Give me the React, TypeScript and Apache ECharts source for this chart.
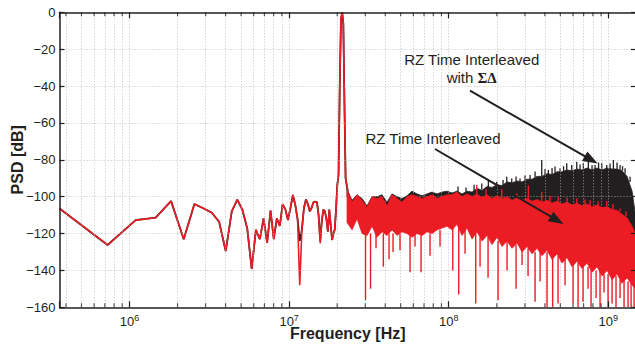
import React, { useEffect, useRef } from 'react';
import * as echarts from 'echarts';

const INK = '#231f20';
const RED = '#ec1c24';
const GRID = '#b4b4b4';

// FFT bin width (Hz) and axis range
const BIN_HZ = 3.642e5;
const X_MIN = 3.642e5;
const X_MAX = 1.49e9;

// Low-frequency bins (bin index) read individually
const lowBins = [
  1, 2, 3, 4, 5, 6, 7, 8, 9, 10, 11, 12, 13, 14, 15, 16, 17, 18, 19, 20,
  21, 22, 23, 24, 25, 26, 27, 28, 29, 30, 31, 32, 33, 34, 35, 36, 37, 38, 39, 40,
  41, 42, 43, 44, 45, 46, 47, 48, 49, 50, 51, 52, 53, 54, 55, 56, 57, 58, 59, 60,
  61, 62, 63, 64,
];
const lowRed = [
  -106.4, -126.2, -112.7, -111.4, -102.4, -123.1, -104, -106.4, -108.7, -113.6,
  -129.5, -108, -101.6, -107.2, -117.2, -139.2, -118, -123, -111.8, -125,
  -107.6, -123, -111.8, -115.9, -104, -106.9, -112.7, -106, -99.1, -104.5,
  -112, -148, -118, -106, -101.5, -104, -108, -106, -103, -102.7,
  -103, -110, -125.3, -113, -107, -108, -112, -119, -107, -115,
  -123.5, -120, -118, -107.2, -93.7, -88, -40, -4, 0, -6,
  -50, -90, -93, -96.4,
];
const lowBlack = [
  -106.4, -126.2, -112.7, -111.4, -102.4, -123.1, -104, -106.4, -108.7, -113.6,
  -129.5, -108, -101.6, -107.2, -117.2, -139.2, -118, -123, -111.8, -125,
  -107.6, -123, -111.8, -115.9, -104, -106.9, -112.7, -106, -99.1, -104.5,
  -112, -124, -118, -106, -101.5, -104, -108, -106, -103, -102.7,
  -103, -110, -124, -113, -107, -108, -112, -119, -107, -115,
  -123.5, -120, -118, -107.2, -93.7, -88, -40, -4, 0, -6,
  -50, -90, -94, -97,
];

// Dense noise region: sampled frequencies with upper / lower edges (dB)
const noiseFreqs = [
  2.306e7, 2.478e7, 2.664e7, 2.863e7, 3.077e7, 3.307e7, 3.554e7, 3.82e7, 4.106e7, 4.412e7,
  4.743e7, 5.097e7, 5.478e7, 5.888e7, 6.328e7, 6.801e7, 7.311e7, 7.862e7, 8.45e7, 9.08e7,
  9.757e7, 1.049e8, 1.127e8, 1.211e8, 1.302e8, 1.4e8, 1.504e8, 1.617e8, 1.738e8, 1.868e8,
  2.007e8, 2.158e8, 2.319e8, 2.492e8, 2.679e8, 2.879e8, 3.095e8, 3.326e8, 3.575e8, 3.842e8,
  4.129e8, 4.438e8, 4.77e8, 5.127e8, 5.51e8, 5.923e8, 6.366e8, 6.842e8, 7.353e8, 7.904e8,
  8.495e8, 9.13e8, 9.813e8, 1.055e9, 1.134e9, 1.218e9, 1.31e9, 1.408e9, 1.49e9,
];
const redHigh = [
  -96, -103, -99, -102, -106, -100, -101, -100, -105, -99,
  -101, -103, -100, -99, -100, -101, -100, -99, -101, -100,
  -99, -99, -97.5, -100, -98.5, -100, -98.5, -100.5, -99, -101,
  -99.5, -101, -100, -102, -100.5, -102, -101, -102.5, -101.5, -103,
  -102, -103.5, -102.5, -104, -103, -104.5, -103.5, -105, -104, -105.5,
  -104.5, -106, -105.5, -107, -107.5, -109.5, -111.5, -116, -121,
];
const redLow = [
  -114, -118, -112, -120, -121, -116, -122, -119, -121, -118,
  -121, -119, -120, -122, -120, -121, -119, -120, -118, -117,
  -116, -118, -115, -121, -117, -123, -119, -124, -121, -126,
  -122, -127, -124, -128, -125, -130, -127, -131, -128, -132,
  -129, -134, -131, -136, -133, -138, -135, -139, -136, -141,
  -138, -143, -140, -145, -142, -147, -144, -148, -150,
];
const blackHigh = [
  -96, -102, -99, -101, -105, -100, -100, -99, -103, -98.5,
  -100, -101, -99.5, -97, -98.5, -99.5, -98.5, -97.5, -98.5, -97.5,
  -97, -98, -97, -98.5, -97, -97.5, -95.5, -96.5, -94.5, -95,
  -93.5, -94, -92, -92.5, -91.5, -92, -90.5, -90.5, -89, -89,
  -87.5, -88, -86.5, -86.5, -85.5, -86, -85, -85.5, -84.5, -85.5,
  -84.5, -85.5, -84.5, -85, -85, -86, -89, -97, -112,
];
const blackLow = [
  -100, -106, -103, -106, -110, -104, -105, -104, -109, -103,
  -105, -107, -104, -103, -104, -105, -104, -103, -105, -104,
  -103, -103, -102, -104, -103, -104, -103, -105, -103, -105,
  -104, -105, -104, -106, -105, -106, -105, -107, -106, -107,
  -106, -108, -107, -108, -107, -109, -108, -109, -108, -110,
  -109, -110, -110, -111, -112, -114, -116, -120, -125,
];

// Thin spikes: [frequency Hz, from dB, to dB]
const redSpikes: [number, number, number][] = [
  [3.01e7, -120, -156], [3.236e7, -120, -150], [3.503e7, -118, -128], [3.893e7, -120, -138],
  [4.226e7, -120, -134], [4.477e7, -120, -130], [4.951e7, -120, -129], [5.721e7, -120, -141],
  [6.149e7, -120, -127], [6.705e7, -120, -141], [7.635e7, -120, -132], [8.818e7, -118, -127],
  [1.06e8, -116, -140], [1.155e8, -116, -153], [1.265e8, -118, -131], [1.476e8, -120, -158],
  [1.571e8, -122, -138], [1.763e8, -122, -144], [2.037e8, -124, -156], [2.319e8, -124, -140],
  [2.641e8, -126, -150], [2.879e8, -128, -137], [3.14e8, -128, -143], [3.474e8, -130, -157],
  [3.734e8, -130, -146], [4.129e8, -130, -160], [4.477e8, -132, -160], [4.84e8, -132, -158],
  [5.355e8, -134, -148], [6.009e8, -136, -158], [6.459e8, -136, -160], [6.94e8, -138, -157],
  [7.46e8, -138, -150], [7.792e8, -140, -160], [8.374e8, -140, -155], [8.868e8, -140, -160],
  [9.397e8, -142, -152], [9.956e8, -142, -160], [1.055e9, -143, -158], [1.117e9, -143, -160],
  [1.184e9, -145, -155], [1.254e9, -145, -160], [1.329e9, -146, -160], [1.388e9, -147, -160],
  [1.449e9, -148, -160],
  // upward red spikes into the black trace
  [1.498e8, -99, -93.7], [1.713e8, -99.5, -96], [2.149e8, -101, -95.5], [2.668e8, -101, -98.2],
  [3.153e8, -101.5, -94], [3.825e8, -103, -97.3], [4.312e8, -103, -99.5], [4.862e8, -103, -100.1],
  [5.51e8, -103.5, -100.5], [6.339e8, -104, -101], [7.145e8, -104.5, -101.5], [7.679e8, -105, -101.9],
  [8.62e8, -105, -102.5], [9.772e8, -105.5, -102.5], [1.07e9, -107, -104], [1.184e9, -108, -106.4],
  [1.291e9, -110.5, -108],
];
const blackSpikes: [number, number, number][] = [
  [1.143e8, -97.5, -94.5], [1.283e8, -97.5, -95], [1.441e8, -97, -93.5], [1.61e8, -96, -92.8],
  [1.771e8, -95, -91], [1.998e8, -93.5, -91.9], [2.189e8, -94, -91], [2.309e8, -92.5, -89.2],
  [2.481e8, -92.5, -90.1], [2.641e8, -91.5, -89], [2.797e8, -92, -90.1], [3.007e8, -91, -88.5],
  [3.232e8, -90.5, -88.2], [3.474e8, -89.5, -86.4], [3.825e8, -89, -80.1], [4.013e8, -88.5, -85],
  [4.209e8, -88, -85.5], [4.438e8, -88, -84.5], [4.634e8, -87, -83.7], [4.983e8, -86.5, -84.6],
  [5.241e8, -86.5, -83.5], [5.486e8, -86, -81.9], [5.897e8, -86, -82.8], [6.339e8, -85, -81],
  [6.648e8, -85.5, -82.5], [6.972e8, -85.5, -81.9], [7.493e8, -85, -81], [7.904e8, -85.5, -83],
  [8.256e8, -85, -82.8], [8.683e8, -85, -81.5], [9.092e8, -85.5, -81.9], [9.772e8, -85, -82.8],
  [1.025e9, -85, -82], [1.075e9, -85, -80.1], [1.134e9, -85, -81.5], [1.184e9, -86, -82.8],
  [1.227e9, -86, -83.5], [1.273e9, -87.5, -84.6], [1.368e9, -92, -89.2],
];

// Axis ticks
const yGridValues = [-20, -40, -60, -80, -100, -120, -140];
const decadeTicks = [1e6, 1e7, 1e8, 1e9];
const minorTicks = [
  4e5, 5e5, 6e5, 7e5, 8e5, 9e5,
  2e6, 3e6, 4e6, 5e6, 6e6, 7e6, 8e6, 9e6,
  2e7, 3e7, 4e7, 5e7, 6e7, 7e7, 8e7, 9e7,
  2e8, 3e8, 4e8, 5e8, 6e8, 7e8, 8e8, 9e8,
];

function bandSeries(name: string, hi: number[], lo: number[], color: string, z: number) {
  return {
    type: 'custom',
    name,
    z,
    silent: true,
    clip: true,
    coordinateSystem: 'cartesian2d',
    data: [[noiseFreqs[0], hi[0]]],
    renderItem: (_params: any, api: any) => {
      const pts: number[][] = [];
      for (let i = 0; i < noiseFreqs.length; i++) pts.push(api.coord([noiseFreqs[i], hi[i]]));
      for (let i = noiseFreqs.length - 1; i >= 0; i--) pts.push(api.coord([noiseFreqs[i], lo[i]]));
      return {
        type: 'polygon',
        shape: { points: pts },
        style: { fill: color, stroke: color, lineWidth: 0.8 },
      };
    },
  };
}

function spikeSeries(name: string, rows: [number, number, number][], color: string, z: number, w: number) {
  return {
    type: 'custom',
    name,
    z,
    silent: true,
    clip: true,
    coordinateSystem: 'cartesian2d',
    encode: { x: 0, y: [1, 2] },
    data: rows,
    renderItem: (_params: any, api: any) => {
      const a = api.coord([api.value(0), api.value(1)]);
      const b = api.coord([api.value(0), api.value(2)]);
      return {
        type: 'line',
        shape: { x1: a[0], y1: a[1], x2: b[0], y2: b[1] },
        style: { stroke: color, lineWidth: w },
      };
    },
  };
}

function arrow(sx: number, sy: number, tx: number, ty: number) {
  const dx = tx - sx;
  const dy = ty - sy;
  const len = Math.sqrt(dx * dx + dy * dy);
  const ux = dx / len;
  const uy = dy / len;
  const L = 15;
  const W = 5.5;
  const bx = tx - L * ux;
  const by = ty - L * uy;
  return [
    {
      type: 'line',
      z: 100,
      shape: { x1: sx, y1: sy, x2: bx + 2 * ux, y2: by + 2 * uy },
      style: { stroke: INK, lineWidth: 2 },
    },
    {
      type: 'polygon',
      z: 100,
      shape: {
        points: [
          [tx, ty],
          [bx - W * uy, by + W * ux],
          [bx + W * uy, by - W * ux],
        ],
      },
      style: { fill: INK },
    },
  ];
}

const FONT = 'Liberation Sans, Arial, Helvetica, sans-serif';

export default function App() {
  const ref = useRef<HTMLDivElement>(null);
  useEffect(() => {
    if (!ref.current) return;
    const chart = echarts.init(ref.current, null, { renderer: 'svg' });
    const xLabelFormatter = (v: number) => {
      const e = Math.log10(v);
      const r = Math.round(e);
      if (Math.abs(e - r) > 1e-6) return '';
      return '{b|10}{s|' + r + '}';
    };
    const xBase = {
      type: 'log',
      logBase: 10,
      min: X_MIN,
      max: X_MAX,
      z: 10,
      splitLine: { show: false },
      axisLine: { show: true, onZero: false, lineStyle: { color: INK, width: 1.5 } },
      axisTick: { show: true, inside: true, length: 6, lineStyle: { color: INK, width: 1.2 } },
    };
    const yBase = {
      type: 'value',
      min: -160,
      max: 0,
      interval: 20,
      z: 10,
      splitLine: { show: false },
      axisLine: { show: true, onZero: false, lineStyle: { color: INK, width: 1.5 } },
      axisTick: { show: true, inside: true, length: 5, lineStyle: { color: INK, width: 1.2 } },
    };
    const option: any = {
      animation: false,
      backgroundColor: '#ffffff',
      textStyle: { fontFamily: FONT },
      grid: {
        left: 59.5,
        top: 12.3,
        width: 576.5,
        height: 295,
        containLabel: false,
        outerBoundsMode: 'none',
      },
      xAxis: [
        {
          ...xBase,
          position: 'bottom',
          name: 'Frequency [Hz]',
          nameLocation: 'middle',
          nameGap: 18,
          nameMoveOverlap: false,
          nameTextStyle: { fontFamily: FONT, fontWeight: 'bold', fontSize: 16, color: INK },
          axisLabel: {
            show: true,
            margin: 6,
            color: INK,
            formatter: xLabelFormatter,
            rich: {
              b: { fontFamily: FONT, fontSize: 13, color: INK },
              s: { fontFamily: FONT, fontSize: 9, color: INK, padding: [0, 0, 8, 0] },
            },
          },
        },
        {
          ...xBase,
          position: 'top',
          axisLabel: { show: false },
        },
      ],
      yAxis: [
        {
          ...yBase,
          position: 'left',
          name: 'PSD [dB]',
          nameLocation: 'middle',
          nameGap: 34,
          nameMoveOverlap: false,
          nameTextStyle: { fontFamily: FONT, fontWeight: 'bold', fontSize: 16, color: INK },
          axisLabel: {
            show: true,
            margin: 4,
            color: INK,
            fontSize: 13,
            fontFamily: FONT,
            formatter: (v: number) => (v < 0 ? '\u2212' + Math.abs(v) : String(v)),
          },
        },
        {
          ...yBase,
          position: 'right',
          axisLabel: { show: false },
        },
      ],
      series: [
        {
          type: 'line',
          name: 'grid',
          z: 1,
          silent: true,
          data: [],
          markLine: {
            silent: true,
            symbol: ['none', 'none'],
            label: { show: false },
            lineStyle: { color: GRID, type: [1, 2], width: 0.8 },
            data: [
              ...minorTicks.map((f) => ({ xAxis: f })),
              ...decadeTicks.map((f) => ({ xAxis: f })),
              ...yGridValues.map((v) => ({ yAxis: v })),
            ],
          },
        },
        {
          type: 'line',
          name: 'RZ Time Interleaved with ΣΔ',
          z: 2,
          silent: true,
          symbol: 'none',
          lineStyle: { color: INK, width: 1.8 },
          data: lowBins.map((k, i) => [k * BIN_HZ, lowBlack[i]]),
        },
        bandSeries('black band', blackHigh, blackLow, INK, 3),
        spikeSeries('black spikes', blackSpikes, INK, 3, 1.3),
        {
          type: 'line',
          name: 'RZ Time Interleaved',
          z: 4,
          silent: true,
          symbol: 'none',
          lineStyle: { color: RED, width: 1.6 },
          data: lowBins.map((k, i) => [k * BIN_HZ, lowRed[i]]),
        },
        bandSeries('red band', redHigh, redLow, RED, 5),
        spikeSeries('red spikes', redSpikes, RED, 6, 1.4),
        {
          type: 'scatter',
          name: 'minor ticks bottom',
          z: 11,
          silent: true,
          clip: false,
          symbol: 'rect',
          symbolSize: [1.1, 4],
          symbolOffset: [0, -2],
          itemStyle: { color: INK },
          data: minorTicks.map((f) => [f, -160]),
        },
        {
          type: 'scatter',
          name: 'minor ticks top',
          z: 11,
          silent: true,
          clip: false,
          symbol: 'rect',
          symbolSize: [1.1, 4],
          symbolOffset: [0, 2],
          itemStyle: { color: INK },
          data: minorTicks.map((f) => [f, 0]),
        },
      ],
      graphic: [
        {
          type: 'text',
          z: 100,
          x: 471.7,
          y: 59,
          style: {
            text: 'RZ Time Interleaved',
            fontFamily: FONT,
            fontSize: 15,
            fill: INK,
            align: 'center',
            verticalAlign: 'middle',
            textAlign: 'center',
            textVerticalAlign: 'middle',
          },
        },
        {
          type: 'text',
          z: 100,
          x: 471.7,
          y: 77.7,
          style: {
            text: 'with {s|ΣΔ}',
            fontFamily: FONT,
            fontSize: 15,
            fill: INK,
            align: 'center',
            verticalAlign: 'middle',
            textAlign: 'center',
            textVerticalAlign: 'middle',
            rich: {
              s: { fontFamily: 'Liberation Serif, Times New Roman, serif', fontWeight: 'bold', fontSize: 15, fill: INK, color: INK },
            },
          },
        },
        {
          type: 'text',
          z: 100,
          x: 433,
          y: 138.3,
          style: {
            text: 'RZ Time Interleaved',
            fontFamily: FONT,
            fontSize: 15,
            fill: INK,
            align: 'center',
            verticalAlign: 'middle',
            textAlign: 'center',
            textVerticalAlign: 'middle',
          },
        },
        ...arrow(470, 90.7, 597.7, 163.6),
        ...arrow(435, 149, 563.5, 224),
      ],
    };
    chart.setOption(option);
    return () => chart.dispose();
  }, []);
  return (
    <div
      ref={ref}
      style={{ position: 'fixed', left: 0, top: 0, width: 635, height: 349, background: '#fff' }}
    />
  );
}
